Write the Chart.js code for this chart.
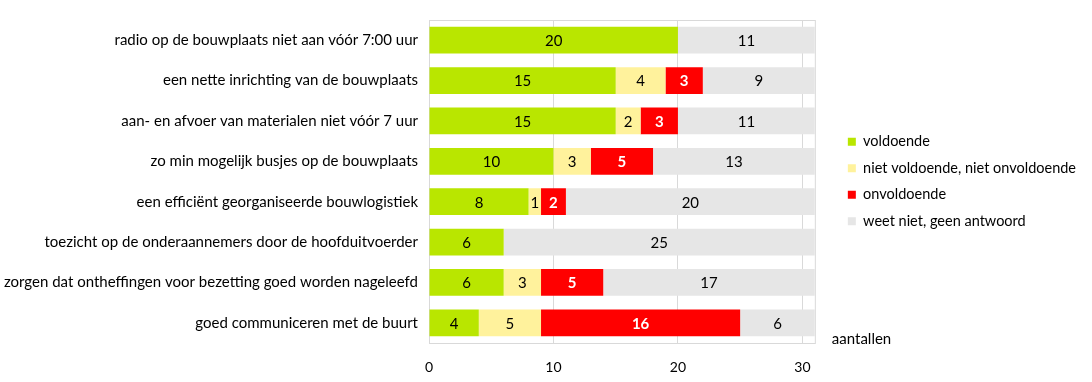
<!DOCTYPE html>
<html>
<head>
<meta charset="utf-8">
<script src="https://cdn.jsdelivr.net/npm/chart.js@4"></script>
<style>
  html, body { margin: 0; padding: 0; background: #fff; }
  #wrap { width: 1092px; height: 382px; }
</style>
</head>
<body>
<div id="wrap"><canvas id="chart"></canvas></div>
<script>
const categories = [
  'radio op de bouwplaats niet aan vóór 7:00 uur',
  'een nette inrichting van de bouwplaats',
  'aan- en afvoer van materialen niet vóór 7 uur',
  'zo min mogelijk busjes op de bouwplaats',
  'een efficiënt georganiseerde bouwlogistiek',
  'toezicht op de onderaannemers door de hoofduitvoerder',
  'zorgen dat ontheffingen voor bezetting goed worden nageleefd',
  'goed communiceren met de buurt'
];
const voldoende   = [20, 15, 15, 10, 8, 6, 6, 4];
const neutraal    = [0, 4, 2, 3, 1, 0, 3, 5];
const onvoldoende = [0, 3, 3, 5, 2, 0, 5, 16];
const weetNiet    = [11, 9, 11, 13, 20, 25, 17, 6];
const xTicks = [0, 10, 20, 30];

const FONT = 'Lato, "Open Sans", sans-serif';

// numbers inside each segment
const segmentLabels = {
  id: 'segmentLabels',
  afterDatasetsDraw(chart) {
    const ctx = chart.ctx;
    ctx.save();
    ctx.textAlign = 'center';
    ctx.textBaseline = 'middle';
    chart.data.datasets.forEach((ds, i) => {
      const meta = chart.getDatasetMeta(i);
      meta.data.forEach((bar, j) => {
        const v = ds.data[j];
        if (!v) return;
        const x = (bar.x + bar.base) / 2;
        if (ds.label === 'onvoldoende') {
          ctx.fillStyle = '#fff';
          ctx.font = 'bold 15px ' + FONT;
        } else {
          ctx.fillStyle = '#000';
          ctx.font = '15px ' + FONT;
        }
        ctx.fillText(String(v), x, bar.y + 1);
      });
    });
    ctx.restore();
  }
};

// plot frame and axis caption
const frame = {
  id: 'frame',
  beforeDatasetsDraw(chart) {
    const a = chart.chartArea, ctx = chart.ctx;
    ctx.save();
    ctx.strokeStyle = '#d9d9d9';
    ctx.lineWidth = 1;
    ctx.strokeRect(a.left + 0.5, a.top + 0.5, a.right - a.left, a.bottom - a.top);
    ctx.restore();
  },
  afterDraw(chart) {
    const a = chart.chartArea, ctx = chart.ctx;
    ctx.save();
    ctx.fillStyle = '#000';
    ctx.font = '15px ' + FONT;
    ctx.textBaseline = 'middle';
    ctx.fillText('aantallen', a.right + 17, a.bottom - 4);
    ctx.restore();
  }
};

new Chart(document.getElementById('chart'), {
  type: 'bar',
  data: {
    labels: categories,
    datasets: [
      { label: 'voldoende', data: voldoende, backgroundColor: '#b9e600' },
      { label: 'niet voldoende, niet onvoldoende', data: neutraal, backgroundColor: '#fff29c' },
      { label: 'onvoldoende', data: onvoldoende, backgroundColor: '#ff0000' },
      { label: 'weet niet, geen antwoord', data: weetNiet, backgroundColor: '#e6e6e6' }
    ]
  },
  options: {
    indexAxis: 'y',
    responsive: true,
    maintainAspectRatio: false,
    animation: false,
    datasets: { bar: { categoryPercentage: 1, barPercentage: 0.66 } },
    layout: { padding: { top: 18, right: 6, bottom: 6, left: 4 } },
    scales: {
      x: {
        stacked: true,
        min: 0, max: 31,
        afterBuildTicks(scale) { scale.ticks = xTicks.map(v => ({ value: v })); },
        afterFit(scale) { scale.height = 33; },
        grid: { color: '#d9d9d9', drawTicks: false },
        border: { color: '#d9d9d9' },
        ticks: { color: '#000', padding: 16, maxRotation: 0, font: { family: FONT, size: 14 } }
      },
      y: {
        stacked: true,
        afterFit(scale) { scale.width = 425; },
        grid: { display: false, drawTicks: false },
        border: { color: '#d9d9d9' },
        ticks: { color: '#000', padding: 11, font: { family: FONT, size: 15 } }
      },
      gap: {
        axis: 'y',
        position: 'right',
        display: false,
        afterFit(scale) { scale.width = 21; }
      }
    },
    plugins: {
      legend: {
        position: 'right',
        fullSize: false,
        labels: {
          boxWidth: 8, boxHeight: 8, padding: 12, color: '#000',
          font: { family: FONT, size: 14.5 }
        }
      },
      tooltip: { enabled: false }
    }
  },
  plugins: [segmentLabels, frame]
});
</script>
</body>
</html>
